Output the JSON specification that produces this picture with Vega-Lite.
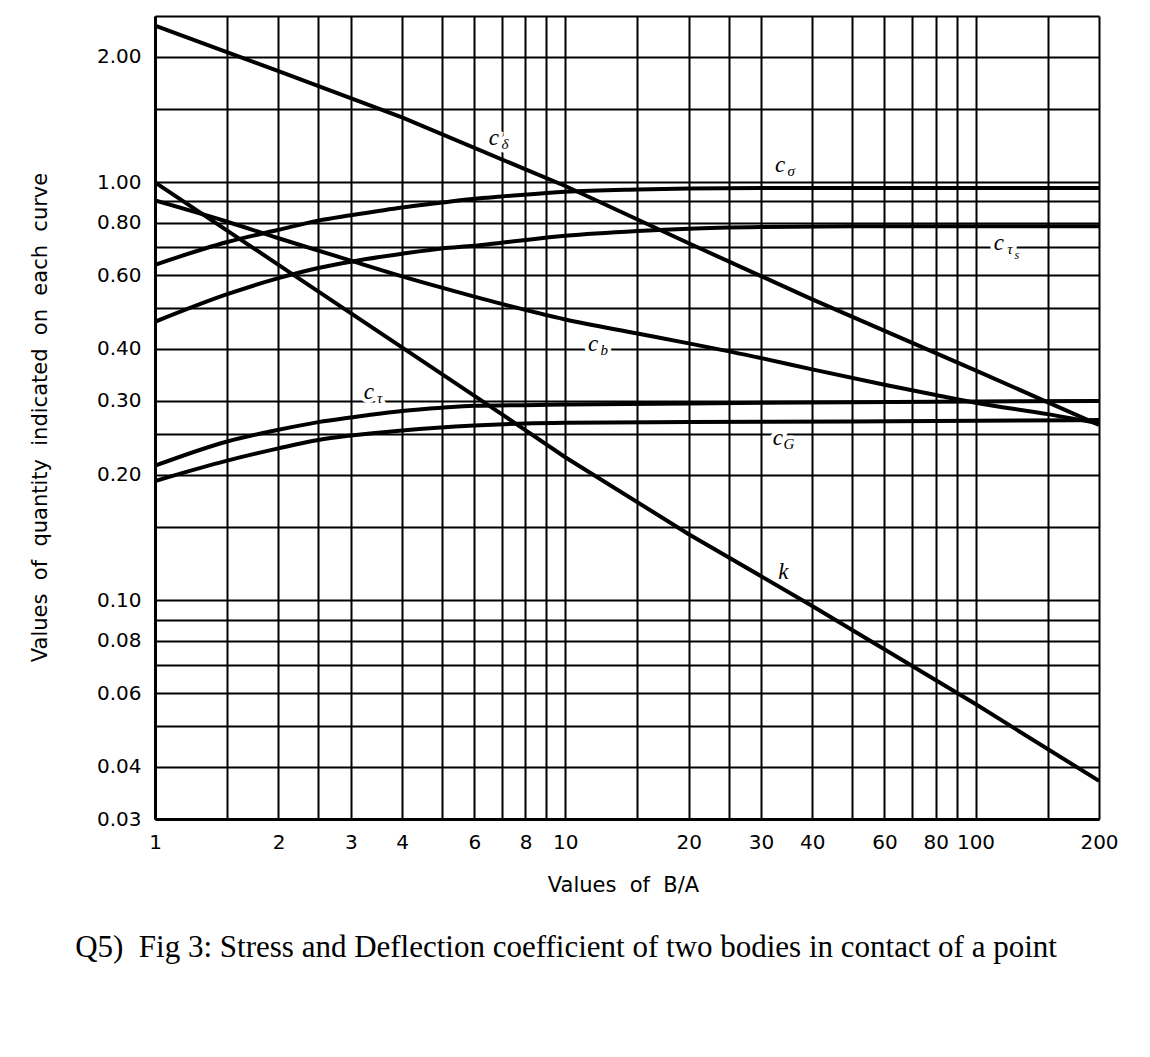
{
  "$schema": "https://vega.github.io/schema/vega-lite/v6.json",
  "width": 944,
  "height": 803,
  "autosize": {"type": "none"},
  "padding": {"left": 155, "top": 16, "right": 51, "bottom": 238},
  "background": "white",
  "config": {"view": {"stroke": null}},
  "title": {
    "text": "Q5)\u00a0 Fig 3: Stress and Deflection coefficient of two bodies in contact of a point",
    "orient": "bottom",
    "anchor": "middle",
    "frame": "group",
    "dx": -61,
    "offset": 38,
    "font": "Liberation Serif",
    "fontSize": 31,
    "fontWeight": "normal",
    "color": "black"
  },
  "datasets": {
    "curves": [
      {"curve": "cdelta", "x": 1, "y": 2.37}, {"curve": "cdelta", "x": 2, "y": 1.845}, {"curve": "cdelta", "x": 4, "y": 1.43},
      {"curve": "cdelta", "x": 10, "y": 0.98}, {"curve": "cdelta", "x": 20, "y": 0.715}, {"curve": "cdelta", "x": 40, "y": 0.525},
      {"curve": "cdelta", "x": 100, "y": 0.355}, {"curve": "cdelta", "x": 200, "y": 0.263},

      {"curve": "k", "x": 1, "y": 1.0}, {"curve": "k", "x": 2, "y": 0.635}, {"curve": "k", "x": 4, "y": 0.403},
      {"curve": "k", "x": 7, "y": 0.279}, {"curve": "k", "x": 10, "y": 0.22}, {"curve": "k", "x": 20, "y": 0.144},
      {"curve": "k", "x": 40, "y": 0.097}, {"curve": "k", "x": 100, "y": 0.0565}, {"curve": "k", "x": 200, "y": 0.037},

      {"curve": "csigma", "x": 1, "y": 0.635}, {"curve": "csigma", "x": 1.5, "y": 0.72}, {"curve": "csigma", "x": 2, "y": 0.77},
      {"curve": "csigma", "x": 2.5, "y": 0.81}, {"curve": "csigma", "x": 3, "y": 0.834}, {"curve": "csigma", "x": 4, "y": 0.871},
      {"curve": "csigma", "x": 5, "y": 0.895}, {"curve": "csigma", "x": 6, "y": 0.914}, {"curve": "csigma", "x": 7, "y": 0.925},
      {"curve": "csigma", "x": 10, "y": 0.95}, {"curve": "csigma", "x": 15, "y": 0.962}, {"curve": "csigma", "x": 20, "y": 0.967},
      {"curve": "csigma", "x": 30, "y": 0.97}, {"curve": "csigma", "x": 50, "y": 0.97}, {"curve": "csigma", "x": 100, "y": 0.97},
      {"curve": "csigma", "x": 200, "y": 0.97},

      {"curve": "ctaus", "x": 1, "y": 0.464}, {"curve": "ctaus", "x": 1.5, "y": 0.54}, {"curve": "ctaus", "x": 2, "y": 0.59},
      {"curve": "ctaus", "x": 2.5, "y": 0.624}, {"curve": "ctaus", "x": 3, "y": 0.646}, {"curve": "ctaus", "x": 4, "y": 0.675},
      {"curve": "ctaus", "x": 5, "y": 0.695}, {"curve": "ctaus", "x": 6, "y": 0.705}, {"curve": "ctaus", "x": 7, "y": 0.717},
      {"curve": "ctaus", "x": 10, "y": 0.745}, {"curve": "ctaus", "x": 15, "y": 0.765}, {"curve": "ctaus", "x": 20, "y": 0.775},
      {"curve": "ctaus", "x": 30, "y": 0.782}, {"curve": "ctaus", "x": 50, "y": 0.785}, {"curve": "ctaus", "x": 100, "y": 0.785},
      {"curve": "ctaus", "x": 200, "y": 0.785},

      {"curve": "cb", "x": 1, "y": 0.905}, {"curve": "cb", "x": 1.5, "y": 0.805}, {"curve": "cb", "x": 2, "y": 0.735},
      {"curve": "cb", "x": 3, "y": 0.65}, {"curve": "cb", "x": 4, "y": 0.596}, {"curve": "cb", "x": 5, "y": 0.56},
      {"curve": "cb", "x": 7, "y": 0.512}, {"curve": "cb", "x": 10, "y": 0.47}, {"curve": "cb", "x": 15, "y": 0.435},
      {"curve": "cb", "x": 20, "y": 0.412}, {"curve": "cb", "x": 30, "y": 0.38}, {"curve": "cb", "x": 40, "y": 0.357},
      {"curve": "cb", "x": 60, "y": 0.328}, {"curve": "cb", "x": 80, "y": 0.31}, {"curve": "cb", "x": 100, "y": 0.297},
      {"curve": "cb", "x": 150, "y": 0.279}, {"curve": "cb", "x": 200, "y": 0.265},

      {"curve": "ctau", "x": 1, "y": 0.21}, {"curve": "ctau", "x": 1.5, "y": 0.24}, {"curve": "ctau", "x": 2, "y": 0.256},
      {"curve": "ctau", "x": 2.5, "y": 0.267}, {"curve": "ctau", "x": 3, "y": 0.274}, {"curve": "ctau", "x": 4, "y": 0.284},
      {"curve": "ctau", "x": 5, "y": 0.289}, {"curve": "ctau", "x": 6, "y": 0.292}, {"curve": "ctau", "x": 10, "y": 0.294},
      {"curve": "ctau", "x": 20, "y": 0.296}, {"curve": "ctau", "x": 50, "y": 0.298}, {"curve": "ctau", "x": 200, "y": 0.3},

      {"curve": "cG", "x": 1, "y": 0.193}, {"curve": "cG", "x": 1.5, "y": 0.216}, {"curve": "cG", "x": 2, "y": 0.231},
      {"curve": "cG", "x": 2.5, "y": 0.242}, {"curve": "cG", "x": 3, "y": 0.248}, {"curve": "cG", "x": 4, "y": 0.255},
      {"curve": "cG", "x": 6, "y": 0.262}, {"curve": "cG", "x": 8, "y": 0.265}, {"curve": "cG", "x": 10, "y": 0.266},
      {"curve": "cG", "x": 20, "y": 0.267}, {"curve": "cG", "x": 50, "y": 0.268}, {"curve": "cG", "x": 200, "y": 0.27}
    ],
    "labels": [
      {"x": 6.7, "y": 1.28, "m": "c", "s": "δ", "ss": ""},
      {"x": 33.4, "y": 1.10, "m": "c", "s": "σ", "ss": ""},
      {"x": 114, "y": 0.715, "m": "c", "s": "τ", "ss": "s"},
      {"x": 11.7, "y": 0.41, "m": "c", "s": "b", "ss": ""},
      {"x": 3.32, "y": 0.316, "m": "c", "s": "τ", "ss": ""},
      {"x": 33, "y": 0.245, "m": "c", "s": "G", "ss": ""},
      {"x": 34, "y": 0.117, "m": "k", "s": "", "ss": ""}
    ]
  },
  "encoding": {
    "x": {
      "field": "x",
      "type": "quantitative",
      "scale": {"type": "log", "domain": [1, 200], "nice": false},
      "axis": {
        "values": [1, 1.5, 2, 2.5, 3, 4, 5, 6, 7, 8, 9, 10, 15, 20, 25, 30, 40, 50, 60, 70, 80, 90, 100, 150, 200],
        "labelExpr": "indexof([1, 2, 3, 4, 6, 8, 10, 20, 30, 40, 60, 80, 100, 200], datum.value) >= 0 ? '' + datum.value : ''",
        "grid": true,
        "gridColor": "black",
        "gridWidth": 2,
        "gridOpacity": 1,
        "ticks": false,
        "domain": true,
        "domainColor": "black",
        "domainWidth": 3,
        "labelFont": "DejaVu Sans",
        "labelFontSize": 20,
        "labelColor": "black",
        "labelPadding": 13,
        "labelFlush": false,
        "labelOverlap": false,
        "title": "Values\u00a0 of\u00a0 B/A",
        "titleFont": "DejaVu Sans",
        "titleFontSize": 21,
        "titleFontWeight": "normal",
        "titleColor": "black",
        "titleX": 468,
        "titleY": 66,
        "titleBaseline": "middle",
        "titleAlign": "center"
      }
    },
    "y": {
      "field": "y",
      "type": "quantitative",
      "scale": {"type": "log", "domain": [0.03, 2.5], "nice": false},
      "axis": {
        "values": [0.03, 0.04, 0.05, 0.06, 0.07, 0.08, 0.09, 0.1, 0.15, 0.2, 0.25, 0.3, 0.4, 0.5, 0.6, 0.7, 0.8, 0.9, 1, 1.5, 2, 2.5],
        "labelExpr": "indexof([0.03, 0.04, 0.06, 0.08, 0.1, 0.2, 0.3, 0.4, 0.6, 0.8, 1, 2], datum.value) >= 0 ? format(datum.value, '.2f') : ''",
        "grid": true,
        "gridColor": "black",
        "gridWidth": 2,
        "gridOpacity": 1,
        "ticks": false,
        "domain": true,
        "domainColor": "black",
        "domainWidth": 3,
        "labelFont": "DejaVu Sans",
        "labelFontSize": 20,
        "labelColor": "black",
        "labelPadding": 14,
        "labelFlush": false,
        "labelOverlap": false,
        "title": "Values\u00a0 of\u00a0 quantity\u00a0 indicated\u00a0 on\u00a0 each\u00a0 curve",
        "titleFont": "DejaVu Sans",
        "titleFontSize": 21,
        "titleFontWeight": "normal",
        "titleColor": "black",
        "titleX": -115,
        "titleY": 401,
        "titleAngle": -90,
        "titleBaseline": "middle",
        "titleAlign": "center"
      }
    }
  },
  "layer": [
    {
      "data": {"name": "curves"},
      "transform": [{"filter": "datum.curve == 'cdelta' || datum.curve == 'k'"}],
      "mark": {"type": "line", "stroke": "black", "strokeWidth": 4, "interpolate": "linear", "clip": true},
      "encoding": {"detail": {"field": "curve"}}
    },
    {
      "data": {"name": "curves"},
      "transform": [{"filter": "datum.curve != 'cdelta' && datum.curve != 'k'"}],
      "mark": {"type": "line", "stroke": "black", "strokeWidth": 4, "interpolate": "monotone", "clip": true},
      "encoding": {"detail": {"field": "curve"}}
    },
    {
      "data": {"name": "labels"},
      "transform": [{"filter": "datum.m != 'k'"}],
      "mark": {"type": "text", "font": "Liberation Serif", "fontStyle": "italic", "fontSize": 23, "stroke": "white", "strokeWidth": 8, "fill": "white", "align": "center", "baseline": "middle"},
      "encoding": {"text": {"field": "m"}}
    },
    {
      "data": {"name": "labels"},
      "transform": [{"filter": "datum.m != 'k'"}],
      "mark": {"type": "text", "font": "Liberation Serif", "fontStyle": "italic", "fontSize": 15, "stroke": "white", "strokeWidth": 7, "fill": "white", "align": "center", "baseline": "middle", "dx": 11, "dy": 6},
      "encoding": {"text": {"field": "s"}}
    },
    {
      "data": {"name": "labels"},
      "transform": [{"filter": "datum.m != 'k'"}],
      "mark": {"type": "text", "font": "Liberation Serif", "fontStyle": "italic", "fontSize": 12, "stroke": "white", "strokeWidth": 6, "fill": "white", "align": "center", "baseline": "middle", "dx": 18, "dy": 12},
      "encoding": {"text": {"field": "ss"}}
    },
    {
      "data": {"name": "labels"},
      "mark": {"type": "text", "font": "Liberation Serif", "fontStyle": "italic", "fontSize": 23, "fill": "black", "align": "center", "baseline": "middle"},
      "encoding": {"text": {"field": "m"}}
    },
    {
      "data": {"name": "labels"},
      "mark": {"type": "text", "font": "Liberation Serif", "fontStyle": "italic", "fontSize": 15, "fill": "black", "align": "center", "baseline": "middle", "dx": 11, "dy": 6},
      "encoding": {"text": {"field": "s"}}
    },
    {
      "data": {"name": "labels"},
      "mark": {"type": "text", "font": "Liberation Serif", "fontStyle": "italic", "fontSize": 12, "fill": "black", "align": "center", "baseline": "middle", "dx": 18, "dy": 12},
      "encoding": {"text": {"field": "ss"}}
    }
  ]
}
